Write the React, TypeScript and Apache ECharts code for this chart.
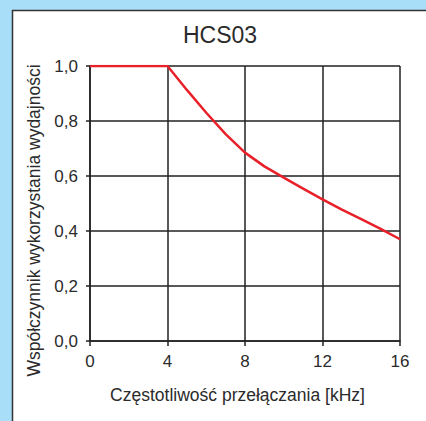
import React, { useEffect, useRef } from "react";
import * as echarts from "echarts";

const titleText = "HCS03";
const xName = "Częstotliwość przełączania [kHz]";
const yName = "Współczynnik wykorzystania wydajności";
const xValues = [0, 4, 5, 6, 7, 8, 9, 10, 11, 12, 13, 14, 15, 16];
const yValues = [1.0, 1.0, 0.913, 0.83, 0.752, 0.685, 0.635, 0.594, 0.554, 0.515, 0.478, 0.443, 0.408, 0.37];

const FONT = "'Liberation Sans', Arial, Helvetica, sans-serif";
const TEXT = "#2b2b2b";

export default function App() {
  const ref = useRef<HTMLDivElement>(null);
  useEffect(() => {
    if (!ref.current) return;
    const chart = echarts.init(ref.current, null, { renderer: "svg" });
    const data = xValues.map((x, i) => [x, yValues[i]]);
    chart.setOption({
      animation: false,
      backgroundColor: "#a8def8",
      textStyle: { fontFamily: FONT },
      graphic: [
        {
          type: "rect",
          z: -10,
          silent: true,
          shape: { x: 12.5, y: 10.5, width: 430, height: 430 },
          style: { fill: "#ffffff", stroke: "#333333", lineWidth: 1.5 },
        },
        {
          type: "text",
          z: 10,
          x: 220,
          y: 35,
          style: {
            text: titleText,
            fill: TEXT,
            font: `23px ${FONT}`,
            textAlign: "center",
            textVerticalAlign: "middle",
          },
        },
      ],
      grid: { left: 90, top: 66, width: 310, height: 275, containLabel: false },
      xAxis: {
        type: "value",
        min: 0,
        max: 16,
        interval: 4,
        name: xName,
        nameLocation: "middle",
        nameGap: 45,
        nameTextStyle: { fontSize: 17.5, color: TEXT, fontFamily: FONT, padding: [0, 15, 0, 0] },
        axisLine: { show: true, onZero: false, lineStyle: { color: "#222", width: 1.5 } },
        axisTick: { show: true, length: 5, lineStyle: { color: "#222", width: 1.5 } },
        axisLabel: { fontSize: 17, color: TEXT, margin: 12, fontFamily: FONT },
        splitLine: { show: true, lineStyle: { color: "#222", width: 1.5 } },
      },
      yAxis: {
        type: "value",
        min: 0,
        max: 1,
        interval: 0.2,
        name: yName,
        nameLocation: "middle",
        nameGap: 46,
        nameTextStyle: { fontSize: 17.5, color: TEXT, fontFamily: FONT, padding: [0, 34, 0, 0] },
        axisLine: { show: true, lineStyle: { color: "#222", width: 1.5 } },
        axisTick: { show: true, length: 4, lineStyle: { color: "#222", width: 1.5 } },
        axisLabel: {
          fontSize: 17,
          color: TEXT,
          margin: 12,
          fontFamily: FONT,
          formatter: (v: number) => v.toFixed(1).replace(".", ","),
        },
        splitLine: { show: true, lineStyle: { color: "#222", width: 1.5 } },
      },
      series: [
        {
          type: "line",
          data,
          showSymbol: false,
          smooth: false,
          lineStyle: { color: "#e8202a", width: 2.5, join: "round" },
          z: 5,
        },
      ],
    });
    return () => chart.dispose();
  }, []);
  return (
    <div
      ref={ref}
      style={{ position: "fixed", left: 0, top: 0, width: 426, height: 421 }}
    />
  );
}
